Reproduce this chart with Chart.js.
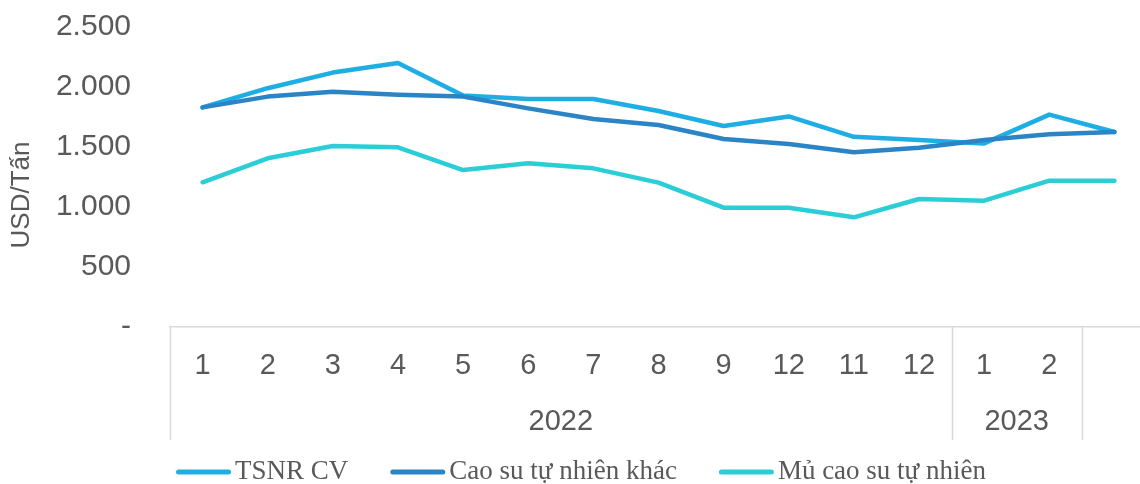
<!DOCTYPE html>
<html>
<head>
<meta charset="utf-8">
<script src="https://cdn.jsdelivr.net/npm/chart.js@4.4.1/dist/chart.umd.min.js"></script>
<style>
  html, body { margin: 0; padding: 0; background: #ffffff; overflow: hidden; width: 1140px; height: 484px; }
  canvas { display: block; }
</style>
</head>
<body>
<canvas id="c" width="1147" height="484" style="width:1147px;height:484px"></canvas>
<script>
// ---- data ----
const months = ['1','2','3','4','5','6','7','8','9','12','11','12','1','2',''];
const yearLabels = ['2022','2023'];
const yearFirstIndex = [0, 12];
const yearLastIndex = [11, 13];
const seriesNames = ['TSNR CV','Cao su tự nhiên khác','Mủ cao su tự nhiên'];
const tsnrCV = [1830, 1990, 2120, 2200, 1930, 1900, 1900, 1800, 1675, 1755, 1585, 1558, 1530, 1770, 1625];
const caoSuKhac = [1830, 1920, 1960, 1935, 1920, 1822, 1733, 1683, 1567, 1525, 1456, 1494, 1558, 1606, 1625];
const muCaoSu = [1206, 1406, 1508, 1497, 1308, 1364, 1322, 1203, 994, 994, 914, 1067, 1053, 1219, 1219];
const yTitle = 'USD/Tấn';

const colors = ['#1FAEE4', '#2A84C6', '#2BCDD7'];
const textColor = '#595959';
const lineGray = '#D9D9D9';

function fmt(v) {
  if (v === 0) return '-';
  return String(v).replace(/\B(?=(\d{3})+(?!\d))/g, '.');
}

const extras = {
  id: 'extras',
  afterDraw(chart) {
    const ctx = chart.ctx;
    const xs = chart.scales.x;
    const area = chart.chartArea;
    const half = (xs.getPixelForValue(1) - xs.getPixelForValue(0)) / 2;
    ctx.save();
    // separators
    ctx.strokeStyle = lineGray;
    ctx.lineWidth = 1.5;
    const bounds = [];
    yearFirstIndex.forEach(i => bounds.push(xs.getPixelForValue(i) - half));
    bounds.push(xs.getPixelForValue(yearLastIndex[yearLastIndex.length - 1]) + half);
    bounds.forEach(bx => {
      ctx.beginPath();
      ctx.moveTo(Math.round(bx) + 0.5, area.bottom);
      ctx.lineTo(Math.round(bx) + 0.5, 440);
      ctx.stroke();
    });
    // year labels
    ctx.fillStyle = textColor;
    ctx.font = '29px "Liberation Sans", Arial, sans-serif';
    ctx.textAlign = 'center';
    ctx.textBaseline = 'middle';
    yearLabels.forEach((lab, k) => {
      const x0 = xs.getPixelForValue(yearFirstIndex[k]) - half;
      const x1 = xs.getPixelForValue(yearLastIndex[k]) + half;
      ctx.fillText(lab, (x0 + x1) / 2, 422);
    });
    // y title
    ctx.save();
    ctx.translate(22, 195);
    ctx.rotate(-Math.PI / 2);
    ctx.font = '26px "Liberation Sans", Arial, sans-serif';
    ctx.fillText(yTitle, 0, 0);
    ctx.restore();
    // legend
    ctx.font = '27px "Liberation Serif", "Times New Roman", serif';
    ctx.textAlign = 'left';
    const lineLen = 55, gapText = 4, gapItem = 42;
    const widths = chart.data.datasets.map(d => lineLen + gapText + ctx.measureText(d.label).width);
    const total = widths.reduce((a, b) => a + b, 0) + gapItem * (widths.length - 1);
    let x = 581 - total / 2;
    const ly = 472;
    chart.data.datasets.forEach((d, i) => {
      ctx.strokeStyle = d.borderColor;
      ctx.lineWidth = 5;
      ctx.lineCap = 'round';
      ctx.beginPath();
      ctx.moveTo(x + 2.5, ly);
      ctx.lineTo(x + lineLen - 2.5, ly);
      ctx.stroke();
      ctx.fillStyle = textColor;
      ctx.fillText(d.label, x + lineLen + gapText, ly);
      x += widths[i] + gapItem;
    });
    ctx.restore();
  }
};

const mk = (label, data, color, order) => ({
  label, data, borderColor: color, backgroundColor: color, borderWidth: 4.5,
  pointRadius: 0, pointHoverRadius: 0, tension: 0, fill: false, order,
  borderCapStyle: 'round', borderJoinStyle: 'round'
});

new Chart(document.getElementById('c'), {
  type: 'line',
  data: {
    labels: months,
    datasets: [
      mk(seriesNames[0], tsnrCV, colors[0], 2),
      mk(seriesNames[1], caoSuKhac, colors[1], 1),
      mk(seriesNames[2], muCaoSu, colors[2], 3)
    ]
  },
  options: {
    responsive: false,
    devicePixelRatio: 1,
    animation: false,
    layout: { padding: { top: 27, left: 0, right: 0, bottom: 0 } },
    plugins: { legend: { display: false }, tooltip: { enabled: false } },
    scales: {
      x: {
        offset: true,
        grid: { display: false, drawTicks: false },
        border: { display: true, color: lineGray, width: 1.5 },
        ticks: {
          color: textColor, padding: 22, maxRotation: 0, autoSkip: false,
          font: { family: '"Liberation Sans", Arial, sans-serif', size: 29 }
        },
        afterFit(s) { s.height = 157; }
      },
      y: {
        min: 0, max: 2500,
        grid: { display: false, drawTicks: false },
        border: { display: false },
        ticks: {
          stepSize: 500, color: textColor, padding: 39,
          font: { family: '"Liberation Sans", Arial, sans-serif', size: 30 },
          callback: v => fmt(v)
        },
        afterFit(s) { s.width = 170; s.paddingTop = 0; s.paddingBottom = 0; }
      }
    }
  },
  plugins: [extras]
});
</script>
</body>
</html>
